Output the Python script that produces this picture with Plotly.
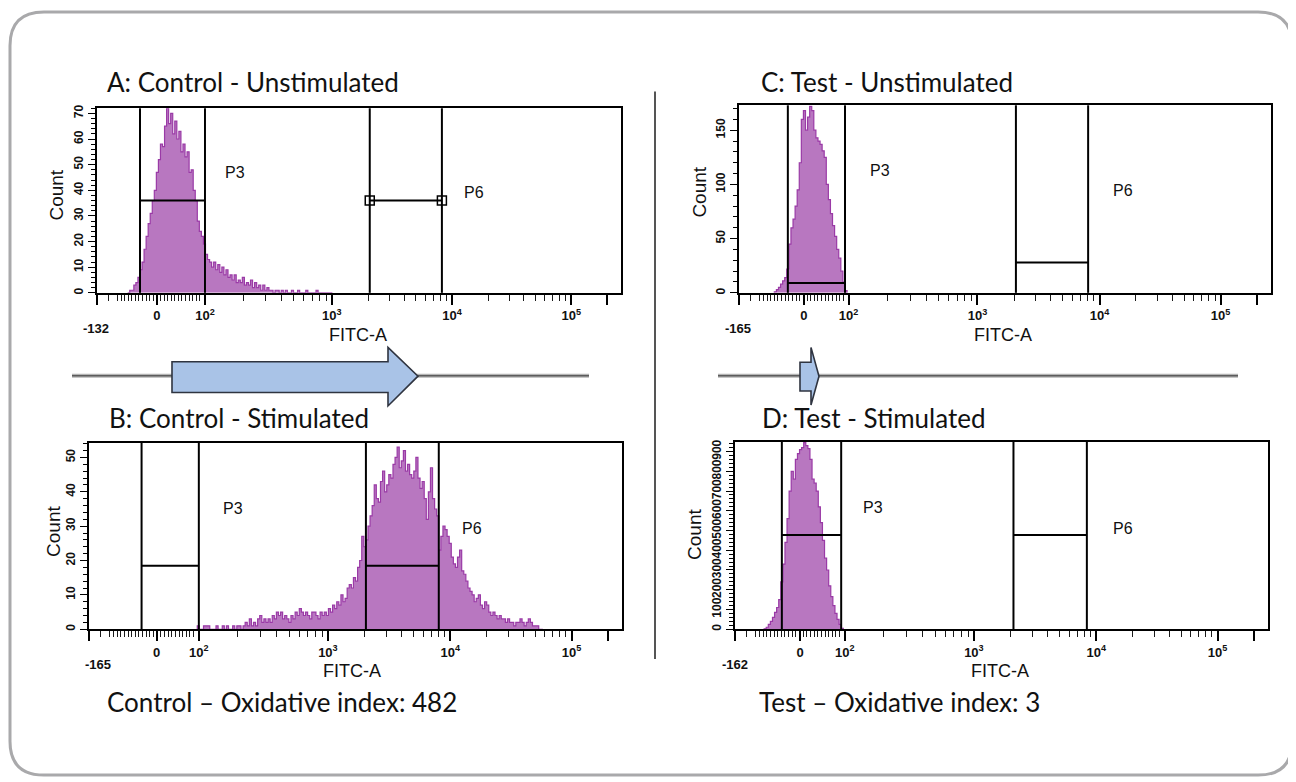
import math
import plotly.graph_objects as go

W, H = 1296, 782
OFF_X, OFF_Y = 8, 8   # page body margin compensation

# ---------------- data (histogram counts per display channel, 4-channel bins) ----------------
BIN_WIDTH = 4

A_START = 60
A_COUNTS = [0, 1, 1, 3, 4, 6, 9, 12, 17, 22,
            27, 31, 36, 40, 47, 52, 58, 57, 65, 72,
            66, 70, 62, 67, 60, 63, 55, 58, 53, 55,
            47, 48, 40, 36, 28, 24, 22, 19, 15, 13,
            12, 10, 12, 9, 11, 8, 10, 7, 9, 6,
            7, 5, 7, 4, 5, 4, 6, 3, 4, 3,
            5, 2, 4, 2, 3, 1, 3, 1, 2, 1,
            1, 0, 1, 1, 0, 1, 0, 1, 0, 0,
            1, 0, 0, 1, 0, 0, 0, 1, 0, 0,
            0, 0, 1, 0, 0, 0, 0, 0, 0, 0]

B_START = 208
B_COUNTS = [1, 0, 0, 1, 1, 1, 0, 0, 0, 1,
            0, 0, 1, 0, 1, 0, 0, 1, 0, 1,
            1, 0, 1, 2, 1, 3, 1, 2, 1, 3,
            4, 2, 3, 2, 3, 2, 4, 3, 5, 4,
            5, 3, 4, 3, 2, 4, 3, 5, 4, 6,
            5, 4, 5, 4, 3, 5, 5, 4, 3, 5,
            4, 5, 4, 6, 5, 7, 6, 8, 7, 10,
            8, 9, 12, 13, 12, 15, 14, 18, 20, 27,
            24, 26, 30, 33, 36, 42, 38, 37, 43, 46,
            40, 42, 45, 44, 48, 50, 53, 47, 49, 52,
            46, 48, 45, 44, 46, 50, 44, 41, 43, 38,
            32, 40, 47, 38, 35, 33, 23, 27, 30, 29,
            27, 25, 21, 19, 18, 21, 23, 17, 16, 14,
            12, 11, 10, 8, 9, 10, 7, 6, 8, 7,
            5, 4, 5, 4, 3, 4, 3, 3, 2, 3,
            2, 2, 1, 2, 2, 3, 2, 1, 2, 3,
            2, 1, 1, 1, 0, 0]

C_START = 68
C_COUNTS = [1, 3, 5, 8, 11, 14, 22, 45, 60, 68,
            80, 95, 120, 160, 168, 150, 162, 172, 168, 150,
            143, 140, 137, 131, 125, 100, 86, 73, 62, 52,
            40, 32, 20, 10, 2]

D_START = 56
D_COUNTS = [2, 10, 25, 40, 60, 85, 110, 150, 240, 330,
            440, 560, 700, 800, 760, 860, 890, 910, 920, 945,
            930, 915, 860, 760, 740, 700, 620, 540, 450, 360,
            300, 220, 165, 120, 80, 50, 25, 5]

# FITC-A axis: display channel of each labelled value
DECADE_CH = [211, 459, 694, 927, 997]          # 10^2, 10^3, 10^4, 10^5, 2x10^5
DECADE_TEXT = ["10<sup>2</sup>", "10<sup>3</sup>", "10<sup>4</sup>", "10<sup>5</sup>", ""]
ZERO_CH = [117, 130, 125, 125]
MIN_LABELS = ["-132", "-165", "-165", "-162"]

Y_MAX = [72, 54.3, 173, 950]
Y_MAJOR_STEP = [10, 10, 50, 100]
Y_MAJOR_TOP = [70, 50, 150, 900]
Y_MINOR_STEP = [2, 2, 10, 20]

# gates: (left channel, right channel, marker level in counts)
P3_GATES = [(84, 211, 36), (101, 211, 18.5), (94, 204, 9), (90, 204, 477)]
P6_GATES = [(533, 674, 36), (532, 672, 18.5), (533, 672, 28), (535, 676, 477)]

TITLES = ["A: Control - Unstimulated", "B: Control - Stimulated",
          "C: Test - Unstimulated", "D: Test - Stimulated"]
FOOTERS = ["Control \u2013 Oxidative index: 482", "Test \u2013 Oxidative index: 3"]

# ---------------- layout geometry (pixels) ----------------
BOXES = [(97, 621, 105, 291), (89, 622, 442, 630), (739, 1271, 102, 291), (735, 1268, 441, 630)]
TITLE_POS = [(105, 79), (107, 417), (759, 79), (760, 417)]
COUNT_POS = [(57, 193), (54, 532), (700, 190), (695, 535)]
FITC_POS = [(358, 333), (352, 672), (1003, 333), (1000, 672)]
MIN_POS = [(96, 327), (98, 666), (738, 327), (735, 666)]
P3_POS = [(235, 170), (233, 508), (880, 168), (873, 507)]
P6_POS = [(474, 190), (472, 528), (1123, 188), (1123, 528)]
FOOTER_POS = [(105, 703), (757, 703)]

FILL_C = "#b877c0"
LINE_C = "#9a3aa6"
AXIS_FONT = "Liberation Sans, Arial, sans-serif"
TITLE_FONT = "Lato, Open Sans, sans-serif"


def px(x):
    return (x - OFF_X) / W


def py(y):
    return 1 - (y - OFF_Y) / H


fig = go.Figure()
panels = [(A_START, A_COUNTS), (B_START, B_COUNTS), (C_START, C_COUNTS), (D_START, D_COUNTS)]
shapes = []
annotations = []

for i, (start, counts) in enumerate(panels):
    sfx = "" if i == 0 else str(i + 1)
    edges = [start + BIN_WIDTH * k for k in range(len(counts) + 1)]
    xs = [edges[0]] + edges
    ys = [0] + list(counts) + [0]
    fig.add_trace(go.Scatter(x=xs, y=ys, mode="lines",
                             line=dict(shape="hv", color=LINE_C, width=1.2),
                             fill="tozeroy", fillcolor=FILL_C,
                             xaxis="x" + sfx, yaxis="y" + sfx,
                             hoverinfo="skip", showlegend=False))

    l, r, t, b = BOXES[i]
    major_vals = [0, ZERO_CH[i]] + DECADE_CH
    major_text = ["", "0"] + DECADE_TEXT
    minor_vals = [22] + [v for v in range(40, 208, 7)]
    for k in range(3):
        for m in range(2, 10):
            minor_vals.append(DECADE_CH[k] + math.log10(m) * (DECADE_CH[k + 1] - DECADE_CH[k]))
    xa = dict(domain=[px(l), px(r)], range=[0, 1024], anchor="y" + sfx,
              showline=True, mirror=True, linecolor="black", linewidth=2,
              showgrid=False, zeroline=False,
              ticks="outside", tickvals=major_vals, ticktext=major_text,
              ticklen=10, tickwidth=1.6, tickcolor="black",
              tickfont=dict(family=AXIS_FONT, size=13, color="#111", weight="bold"),
              minor=dict(tickmode="array", tickvals=minor_vals, ticks="outside",
                         ticklen=6, tickwidth=1, tickcolor="#1a1a1a", showgrid=False),
              fixedrange=True)
    yvals = list(range(0, Y_MAJOR_TOP[i] + 1, Y_MAJOR_STEP[i]))
    ya = dict(domain=[py(b), py(t)], range=[0, Y_MAX[i]], anchor="x" + sfx,
              showline=True, mirror=True, linecolor="black", linewidth=2,
              showgrid=False, zeroline=False,
              ticks="outside", tickvals=yvals, ticktext=[str(v) for v in yvals],
              ticklen=7, tickwidth=1.4, tickcolor="black", tickangle=-90,
              tickfont=dict(family=AXIS_FONT, size=12, color="#111", weight="bold"),
              minor=dict(dtick=Y_MINOR_STEP[i], tick0=0, ticks="outside", ticklen=4,
                         tickwidth=1, tickcolor="black", showgrid=False),
              fixedrange=True)
    fig.update_layout(**{"xaxis" + sfx: xa, "yaxis" + sfx: ya})

    xref = "x" + sfx
    yref = "y" + sfx
    for (g0, g1, lev) in (P3_GATES[i], P6_GATES[i]):
        for gx in (g0, g1):
            shapes.append(dict(type="line", xref=xref, yref=yref + " domain",
                               x0=gx, x1=gx, y0=0, y1=1,
                               line=dict(color="black", width=2)))
        shapes.append(dict(type="line", xref=xref, yref=yref, x0=g0, x1=g1, y0=lev, y1=lev,
                           line=dict(color="black", width=2)))
    if i == 0:
        g0, g1, lev = P6_GATES[0]
        fig.add_trace(go.Scatter(x=[g0, g1], y=[lev, lev], mode="markers",
                                 marker=dict(symbol="square-open", size=9,
                                             color="black", line=dict(width=1.5)),
                                 xaxis=xref, yaxis=yref, hoverinfo="skip", showlegend=False))

    annotations += [
        dict(text=TITLES[i], x=px(TITLE_POS[i][0]), y=py(TITLE_POS[i][1]), xref="paper", yref="paper",
             xanchor="left", yanchor="middle", showarrow=False,
             font=dict(family=TITLE_FONT, size=26, color="#111")),
        dict(text="Count", x=px(COUNT_POS[i][0]), y=py(COUNT_POS[i][1]), xref="paper", yref="paper",
             xanchor="center", yanchor="middle", showarrow=False, textangle=-90,
             font=dict(family=AXIS_FONT, size=19, color="#111")),
        dict(text="FITC-A", x=px(FITC_POS[i][0]), y=py(FITC_POS[i][1]), xref="paper", yref="paper",
             xanchor="center", yanchor="middle", showarrow=False,
             font=dict(family=AXIS_FONT, size=18, color="#111")),
        dict(text=MIN_LABELS[i], x=px(MIN_POS[i][0]), y=py(MIN_POS[i][1]), xref="paper", yref="paper",
             xanchor="center", yanchor="middle", showarrow=False,
             font=dict(family=AXIS_FONT, size=13, color="#111", weight="bold")),
        dict(text="P3", x=px(P3_POS[i][0]), y=py(P3_POS[i][1]), xref="paper", yref="paper",
             xanchor="center", yanchor="middle", showarrow=False,
             font=dict(family=AXIS_FONT, size=16, color="#111")),
        dict(text="P6", x=px(P6_POS[i][0]), y=py(P6_POS[i][1]), xref="paper", yref="paper",
             xanchor="center", yanchor="middle", showarrow=False,
             font=dict(family=AXIS_FONT, size=16, color="#111")),
    ]

for j, txt in enumerate(FOOTERS):
    annotations.append(dict(text=txt, x=px(FOOTER_POS[j][0]), y=py(FOOTER_POS[j][1]),
                            xref="paper", yref="paper", xanchor="left", yanchor="middle",
                            showarrow=False, font=dict(family=TITLE_FONT, size=26, color="#111")))


def path(points, close=True):
    s = "M " + " L ".join(f"{px(x):.5f},{py(y):.5f}" for x, y in points)
    return s + (" Z" if close else "")


# rounded outer frame
x0, x1, y0, y1, rr = 10, 1292, 8, 777, 34
frame = (f"M {px(x0 + rr):.5f},{py(y0):.5f} L {px(x1 - rr):.5f},{py(y0):.5f} "
         f"Q {px(x1):.5f},{py(y0):.5f} {px(x1):.5f},{py(y0 + rr):.5f} "
         f"L {px(x1):.5f},{py(y1 - rr):.5f} Q {px(x1):.5f},{py(y1):.5f} {px(x1 - rr):.5f},{py(y1):.5f} "
         f"L {px(x0 + rr):.5f},{py(y1):.5f} Q {px(x0):.5f},{py(y1):.5f} {px(x0):.5f},{py(y1 - rr):.5f} "
         f"L {px(x0):.5f},{py(y0 + rr):.5f} Q {px(x0):.5f},{py(y0):.5f} {px(x0 + rr):.5f},{py(y0):.5f} Z")
shapes.append(dict(type="path", xref="paper", yref="paper", path=frame,
                   line=dict(color="#a9a9ab", width=3), fillcolor="rgba(0,0,0,0)", layer="below"))

# divider
shapes.append(dict(type="line", xref="paper", yref="paper", x0=px(655), x1=px(655),
                   y0=py(88), y1=py(660), line=dict(color="#555555", width=2)))

# horizontal arrow tracks
for (a, bx) in ((72, 589), (718, 1238)):
    shapes.append(dict(type="line", xref="paper", yref="paper", x0=px(a), x1=px(bx),
                       y0=py(374.5), y1=py(374.5), line=dict(color="#b4b4b4", width=4)))
    shapes.append(dict(type="line", xref="paper", yref="paper", x0=px(a), x1=px(bx),
                       y0=py(374.5), y1=py(374.5), line=dict(color="#5c5c5c", width=1.6)))

# block arrows
big = [(172, 360.5), (388, 360.5), (388, 346), (418, 375), (388, 405), (388, 391.5), (172, 391.5)]
small = [(800, 361), (811, 361), (811, 346), (819, 375), (811, 404), (811, 390), (800, 390)]
for pts in (big, small):
    shapes.append(dict(type="path", xref="paper", yref="paper", path=path(pts),
                       fillcolor="#a9c3e7", line=dict(color="#2f3440", width=1.6)))

fig.update_layout(width=W, height=H, margin=dict(l=0, r=0, t=0, b=0),
                  paper_bgcolor="white", plot_bgcolor="white", showlegend=False,
                  shapes=shapes, annotations=annotations)

fig.write_html("out.html")
